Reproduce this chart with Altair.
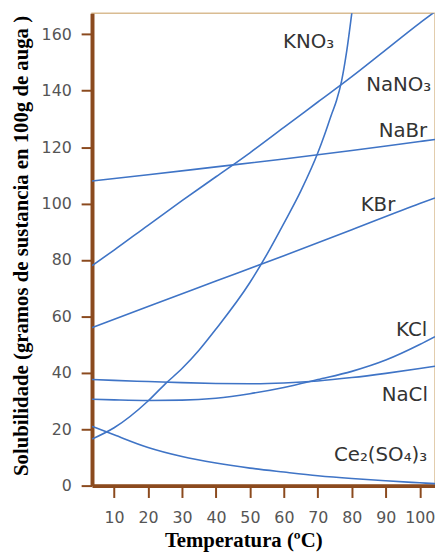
import altair as alt
import pandas as pd

# --- data (temperature °C, g / 100 g water) ---
kno3_t = [3.5, 10, 20, 25, 30, 35, 40, 50, 55, 60, 65, 70, 72, 74, 75.5, 77, 78.5, 80, 81]
kno3_v = [16.5, 20.5, 30, 36, 41.5, 48, 55.5, 72, 82, 93, 104.5, 118, 124.5, 131.5, 136.5, 143.5, 154, 167.5, 177]

nano3_t = [3.5, 10, 20, 30, 40, 50, 60, 70, 80, 90, 100, 104.5]
nano3_v = [78, 83.5, 92.3, 101, 109.5, 118, 127, 136, 145, 154.5, 164, 168]

nabr_t = [3.5, 20, 40, 60, 80, 100, 104.5]
nabr_v = [108, 110.2, 113, 115.8, 118.8, 122, 122.7]

kbr_t = [3.5, 20, 40, 60, 80, 100, 104.5]
kbr_v = [56, 63.5, 72.5, 81.5, 90.7, 100, 102]

kcl_t = [3.5, 10, 20, 30, 40, 50, 60, 70, 80, 90, 100, 104.5]
kcl_v = [30.6, 30.4, 30.2, 30.3, 31, 32.6, 34.8, 37.6, 40.5, 44.5, 50, 52.8]

nacl_t = [3.5, 10, 20, 30, 40, 50, 60, 70, 80, 90, 100, 104.5]
nacl_v = [37.6, 37.3, 36.9, 36.5, 36.2, 36.1, 36.4, 37.1, 38.3, 39.8, 41.5, 42.3]

ce_t = [3.5, 10, 20, 30, 40, 50, 60, 70, 80, 90, 100, 104.5]
ce_v = [21, 18, 13.5, 10.3, 8, 6.2, 4.8, 3.5, 2.5, 1.7, 1, 0.7]

label_text = ["KNO₃", "NaNO₃", "NaBr", "KBr", "KCl", "NaCl", "Ce₂(SO₄)₃"]
label_t = [74.8, 103.4, 102.2, 92.8, 102.2, 102.4, 102.2]
label_v = [157.2, 141.9, 125.8, 99.5, 55, 32.1, 10.9]

x_ticks = [10, 20, 30, 40, 50, 60, 70, 80, 90, 100]
y_ticks = [0, 20, 40, 60, 80, 100, 120, 140, 160]

series = {
    "KNO3": (kno3_t, kno3_v),
    "NaNO3": (nano3_t, nano3_v),
    "NaBr": (nabr_t, nabr_v),
    "KBr": (kbr_t, kbr_v),
    "KCl": (kcl_t, kcl_v),
    "NaCl": (nacl_t, nacl_v),
    "Ce2(SO4)3": (ce_t, ce_v),
}
rows = []
for name, (ts, vs) in series.items():
    for i, (t, v) in enumerate(zip(ts, vs)):
        rows.append({"serie": name, "t": t, "v": v, "o": i})
df = pd.DataFrame(rows)
lab = pd.DataFrame({"txt": label_text, "t": label_t, "v": label_v})

BROWN = "#8B4A1E"

xscale = alt.Scale(domain=[3.5, 104.5], nice=False, zero=False)
yscale = alt.Scale(domain=[0, 167.5], nice=False)

xaxis = alt.Axis(values=x_ticks, tickCount=12, title="Temperatura (ºC)", grid=False,
                 tickSize=12, tickWidth=2, tickColor=BROWN,
                 domainColor=BROWN, domainWidth=4,
                 labelFont="DejaVu Sans", labelFontSize=16, labelColor="#555555",
                 labelPadding=12, labelOverlap=False, labelFlush=False,
                 titleFont="Liberation Serif", titleFontSize=21, titleFontWeight="bold",
                 titleColor="black", titleX=153, titleY=62,
                 titleBaseline="alphabetic", titleAlign="center")
yaxis = alt.Axis(values=y_ticks, tickCount=12,
                 title="Solubilidade (gramos de sustancia en 100g de auga )",
                 grid=False, tickSize=11, tickWidth=2, tickColor=BROWN,
                 domainColor=BROWN, domainWidth=4,
                 labelFont="DejaVu Sans", labelFontSize=16, labelColor="#555555",
                 labelPadding=10, labelOverlap=False, labelFlush=False,
                 titleFont="Liberation Serif", titleFontSize=21, titleFontWeight="bold",
                 titleColor="black", titleX=-65, titleY=235,
                 titleBaseline="alphabetic", titleAlign="center", titleAngle=270)

lines = alt.Chart(df).mark_line(clip=True, interpolate="monotone", strokeWidth=1.6,
                                color="#3f74c6").encode(
    x=alt.X("t:Q", scale=xscale, axis=xaxis),
    y=alt.Y("v:Q", scale=yscale, axis=yaxis),
    detail="serie:N",
    order="o:Q",
)

labels = alt.Chart(lab).mark_text(align="right", baseline="middle",
                                  font="DejaVu Sans", fontSize=20,
                                  color="#333333").encode(
    x=alt.X("t:Q", scale=xscale),
    y=alt.Y("v:Q", scale=yscale),
    text="txt:N",
)

chart = alt.layer(lines, labels).properties(
    width=347, height=478,
    padding={"left": 85, "top": 2, "right": 0, "bottom": 68},
    autosize=alt.AutoSizeParams(type="none"),
    background="white",
).configure_view(stroke="#d9bc92", strokeWidth=1.5)

chart.save("out.html", embed_options={"renderer": "svg", "actions": False})
